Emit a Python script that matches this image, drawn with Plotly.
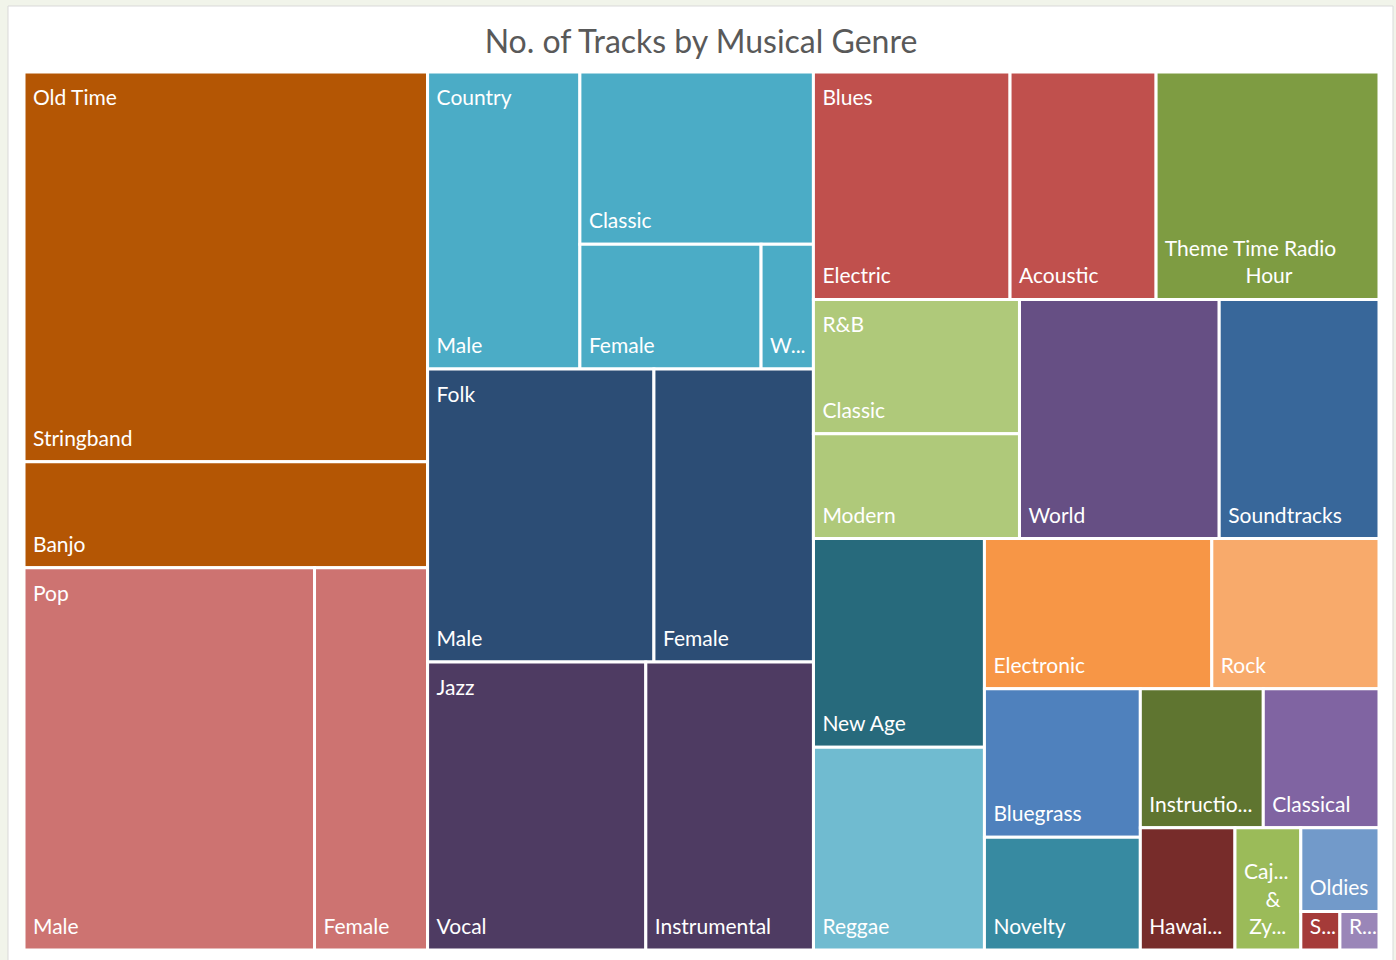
import plotly.graph_objects as go

# ---- track counts per genre / sub-genre ----
old_time_sub = ["Stringband", "Banjo"]
old_time_vals = [313, 85]

pop_sub = ["Male", "Female"]
pop_vals = [221, 86]

country_sub = ["Male", "Classic", "Female", "Western"]
country_vals = [90, 80, 45, 13]

folk_sub = ["Male", "Female"]
folk_vals = [132, 93]

jazz_sub = ["Vocal", "Instrumental"]
jazz_vals = [125, 96]

blues_sub = ["Electric", "Acoustic"]
blues_vals = [89, 66]

rnb_sub = ["Classic", "Modern"]
rnb_vals = [55, 43]

single_genres = ["Theme Time Radio Hour", "World", "Soundtracks", "New Age", "Reggae",
                 "Electronic", "Rock", "Bluegrass", "Novelty", "Instructional",
                 "Classical", "Hawaiian", "Cajun & Zydeco", "Oldies", "S...", "R..."]
single_vals = [101, 95, 76, 71, 69, 68, 50, 46, 35, 34, 32, 23, 16, 13, 3, 3]

grouped = [
    ("Old Time", old_time_sub, old_time_vals),
    ("Pop", pop_sub, pop_vals),
    ("Country", country_sub, country_vals),
    ("Folk", folk_sub, folk_vals),
    ("Jazz", jazz_sub, jazz_vals),
    ("Blues", blues_sub, blues_vals),
    ("R&B", rnb_sub, rnb_vals),
]

genre_colors = {
    "Old Time": "#B45604", "Pop": "#CD7371", "Country": "#4BACC6", "Folk": "#2C4D75",
    "Jazz": "#4E3B62", "Blues": "#C0504D", "Theme Time Radio Hour": "#7E9C42",
    "R&B": "#AFC97A", "World": "#664F84", "Soundtracks": "#38679A",
    "New Age": "#276A7C", "Reggae": "#70BBD0", "Electronic": "#F79646",
    "Rock": "#F8AA6B", "Bluegrass": "#4F81BD", "Novelty": "#378AA1",
    "Instructional": "#5F7530", "Classical": "#8064A2", "Hawaiian": "#772C2A",
    "Cajun & Zydeco": "#9BBB59", "Oldies": "#729ACA", "S...": "#A53B39",
    "R...": "#9A86B8",
}

NB = "\u00a0"
# labels shortened / wrapped the way they are shown inside narrow tiles
display = {
    "Western": "W...",
    "Theme Time Radio Hour": "Theme Time Radio<br>" + NB * 15 + "Hour",
    "Instructional": "Instructio...",
    "Hawaiian": "Hawai...",
    "Cajun & Zydeco": "Caj...<br>" + NB * 4 + "&<br>" + NB + "Zy...",
}

ids, labels, parents, values, colors, bottom_text, top_text = [], [], [], [], [], [], []

for genre, subs, vals in grouped:
    ids.append(genre); labels.append(genre); parents.append("")
    values.append(sum(vals)); colors.append(genre_colors[genre])
    bottom_text.append(""); top_text.append("")
    largest = vals.index(max(vals))
    for i, (s, v) in enumerate(zip(subs, vals)):
        ids.append(f"{genre}/{s}"); labels.append(s); parents.append(genre)
        values.append(v); colors.append(genre_colors[genre])
        bottom_text.append(display.get(s, s))
        top_text.append(genre if i == largest else "")

for g, v in zip(single_genres, single_vals):
    ids.append(g); labels.append(g); parents.append("")
    values.append(v); colors.append(genre_colors[g])
    bottom_text.append(display.get(g, g)); top_text.append("")

W, H = 1396, 960
# tile area in page pixels (left, right, top, bottom)
L, R, T, B = 24, 1379, 72, 950


def dom(dx=0, dy=0):
    """Domain of the tile area, optionally nudged by (dx, dy) pixels."""
    return dict(x=[(L + dx) / W, (R + dx) / W],
                y=[(H - B - dy) / H, (H - T - dy) / H])


label_font = dict(family="Lato", size=21, color="white")
common = dict(
    ids=ids, labels=labels, parents=parents, values=values,
    branchvalues="total", sort=True,
    tiling=dict(packing="squarify", squarifyratio=1, pad=0),
    pathbar=dict(visible=False),
    textfont=label_font,
)
clear = ["rgba(0,0,0,0)"] * len(ids)
no_pad = dict(t=0, l=0, r=0, b=0)

fig = go.Figure()
# coloured tiles
fig.add_trace(go.Treemap(
    **common, domain=dom(),
    textinfo="none",
    marker=dict(colors=colors, line=dict(color="white", width=3), pad=no_pad),
    hoverinfo="label+value",
))
# genre names in the upper-left corner of each group
fig.add_trace(go.Treemap(
    **common, domain=dom(6, 9),
    text=top_text, textinfo="text", textposition="top left",
    marker=dict(colors=clear, line=dict(width=0), pad=no_pad),
    hoverinfo="skip",
))
# tile names in the lower-left corner
fig.add_trace(go.Treemap(
    **common, domain=dom(6, -9),
    text=bottom_text, textinfo="text", textposition="bottom left",
    marker=dict(colors=clear, line=dict(width=0), pad=no_pad),
    hoverinfo="skip",
))

# white chart card with a thin grey frame
fig.add_shape(type="rect", xref="paper", yref="paper", layer="below",
              x0=8 / W, x1=1393 / W, y0=-0.01, y1=1 - 6 / H,
              fillcolor="white", line=dict(color="#D9D9D9", width=1))

fig.update_layout(
    width=W, height=H,
    margin=dict(l=0, r=0, t=0, b=0),
    paper_bgcolor="#F1F4EA",
    title=dict(text="No. of Tracks by Musical Genre",
               x=701 / W, xref="container", xanchor="center",
               y=1 - 42 / H, yref="container", yanchor="middle",
               font=dict(family="Lato", size=32, color="#595959")),
    showlegend=False,
)

fig.write_html("out.html")
